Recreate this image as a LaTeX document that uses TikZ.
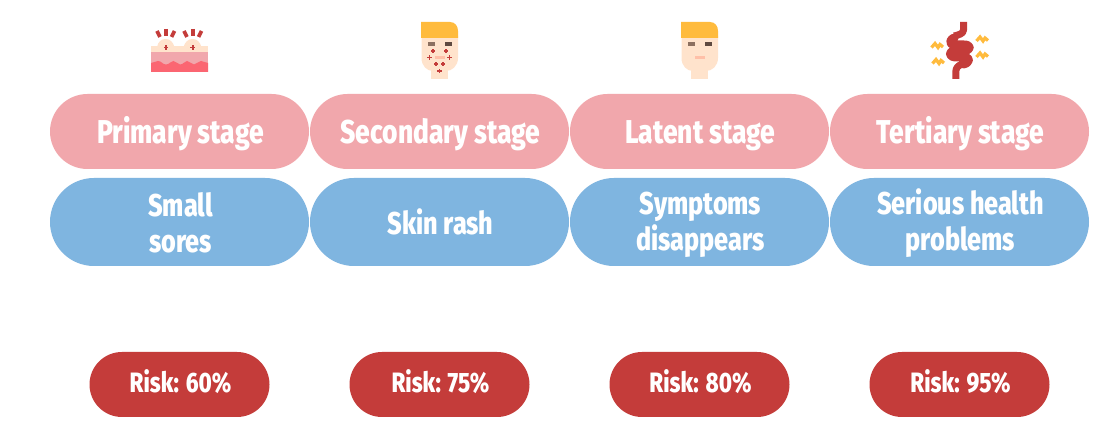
\documentclass[tikz,border=0pt]{standalone}
\usepackage{fontspec}
\usetikzlibrary{shapes.misc}
\setmainfont[FakeStretch=0.80,BoldFont={Fira Sans ExtraBold}]{Fira Sans}
\definecolor{pinkpill}{HTML}{F1A7AC}
\definecolor{bluepill}{HTML}{7FB5E0}
\definecolor{redpill}{HTML}{C43C3A}
\definecolor{hair}{HTML}{FFBB3D}
\definecolor{skin}{HTML}{FFE3CC}
\definecolor{nose}{HTML}{FFC0A8}
\definecolor{browa}{HTML}{8C7060}
\definecolor{browb}{HTML}{5F4A40}
\definecolor{skinred}{HTML}{FB6672}
\newcommand{\linestrut}{\hspace*{2pt}\rule[-3pt]{0pt}{31pt}}
\tikzset{
  stagepill/.style={fill=pinkpill,draw=none,text=white,font=\bfseries\fontsize{33}{36}\selectfont,minimum width=259pt,minimum height=75pt,inner sep=0pt,rounded rectangle,align=center,text height=31pt,text depth=6pt},
  sympill/.style={fill=bluepill,draw=none,text=white,font=\bfseries\fontsize{31.5}{36}\selectfont,minimum width=259pt,minimum height=88pt,inner sep=0pt,rounded rectangle,align=center},
  riskpill/.style={fill=redpill,draw=none,text=white,font=\bfseries\fontsize{28}{30}\selectfont,minimum width=180pt,minimum height=65pt,inner sep=0pt,rounded rectangle,align=center,text height=23pt,text depth=6pt},
  spot/.pic={\fill[redpill] (-0.9,-2.3) rectangle (0.9,2.3); \fill[redpill] (-2.3,-0.9) rectangle (2.3,0.9);},
  facepic/.pic={
    \fill[skin] (431,66) rectangle (448,79);
    \fill[skin] (421.5,36) -- (458,36) -- (458,58) .. controls (458,66) and (452,71) .. (446,71) -- (433,71) .. controls (427,71) and (421.5,66) .. (421.5,58) -- cycle;
    \fill[hair] (421,22) -- (450,22) .. controls (455,22) and (458,26) .. (458,31) -- (458,38) -- (421,38) -- cycle;
    \fill[browa] (428,42.5) rectangle (435,46);
    \fill[browb] (444.5,42.5) rectangle (451.5,46);
    \fill[nose] (434.5,56) rectangle (444.5,59);
  }
}
\begin{document}
\begin{tikzpicture}[x=1pt,y=-1pt]
\useasboundingbox (0,0) rectangle (1112,438);
\fill[white] (0,0) rectangle (1112,438);

% stage pills
\node[stagepill] (s1) at (179.5,131.5) {\hspace*{2pt}Primary stage};
\node[stagepill] (s2) at (439.5,131.5) {\hspace*{2pt}Secondary stage};
\node[stagepill] (s3) at (699.5,131.5) {\hspace*{2pt}Latent stage};
\node[stagepill] (s4) at (959.5,131.5) {\hspace*{2pt}Tertiary stage};
% symptom pills
\node[sympill] (d1) at (179.5,222) {\linestrut Small\\\linestrut sores};
\node[sympill] (d2) at (439.5,222) {\linestrut Skin rash};
\node[sympill] (d3) at (699.5,222) {\linestrut Symptoms\\\linestrut disappears};
\node[sympill] (d4) at (959.5,222) {\linestrut Serious health\\\linestrut problems};
% risk pills
\node[riskpill] (r1) at (179.5,384.5) {\hspace*{2pt}Risk: 60\%};
\node[riskpill] (r2) at (439.5,384.5) {\hspace*{2pt}Risk: 75\%};
\node[riskpill] (r3) at (699.5,384.5) {\hspace*{2pt}Risk: 80\%};
\node[riskpill] (r4) at (959.5,384.5) {\hspace*{2pt}Risk: 95\%};

% skin icon
\fill[skin] (157,47) .. controls (158,42) and (161,39) .. (165.7,39) .. controls (170,39) and (173,42) .. (174.5,47) -- cycle;
\fill[skin] (183.5,47) .. controls (185,42) and (188,39) .. (192.7,39) .. controls (197,39) and (200,42) .. (201.5,47) -- cycle;
\fill[skin] (151,46) rectangle (208,52.5);
\fill[pinkpill] (151,52.5) rectangle (208,72.5);
\fill[skinred] (151,63) .. controls (154,63) and (155,61) .. (158,61) .. controls (162,61) and (162,64.5) .. (166,64.5) .. controls (170,64.5) and (170,61) .. (173.5,61) .. controls (177,61) and (177,64.5) .. (180,64.5) .. controls (184,64.5) and (184,61) .. (187,61) .. controls (190,61) and (191,64.5) .. (194,64.5) .. controls (197,64.5) and (198,61) .. (201,61) .. controls (204,61) and (205,63) .. (208,63) -- (208,72) -- (151,72) -- cycle;
\pic at (166,47.5) {spot};
\pic at (192.7,47.5) {spot};
\foreach \a/\b/\c/\d in {157/31/160/37, 174.5/31/171.5/37, 192.7/29/192.7/36, 184/31/187/37, 201.5/31/198.5/37, 166/29/166/36}
  \draw[redpill,line width=3.6pt] (\a,\b) -- (\c,\d);

% faces
\pic at (0,0) {facepic};
\pic at (260,0) {facepic};
\foreach \x/\y in {433/51,446/51,429.5/57.5,449.5/57.5,436/64,443/64,439.5/71}
  \pic at (\x,\y) {spot};

% gut icon
\draw[redpill,line width=7pt,line join=round] (963.5,22) -- (963.5,30) .. controls (963.5,34) and (958,35) .. (954,36);
\draw[redpill,line width=9pt,line join=round,line cap=round] (954,38) .. controls (949,40) and (950,45) .. (955,45) -- (964,45) .. controls (971,45) and (971,50) .. (964,50.5) -- (955,50.5) .. controls (949,51) and (949,57) .. (955,57) -- (964,57) .. controls (970,57) and (970,63) .. (963,64);
\draw[redpill,line width=7pt,line join=round] (963,64) .. controls (958,65) and (955.8,68) .. (955.8,72) -- (955.8,79);
\foreach \x/\y in {937/46,938/62,982/39.5,982/55.5}
  \draw[hair,line width=3.2pt,line join=miter] (\x-5.5,\y+1.5) -- (\x-2,\y-2.5) -- (\x+1,\y+1.5) -- (\x+3,\y-1.5) -- (\x+6,\y+1);
\end{tikzpicture}
\end{document}
